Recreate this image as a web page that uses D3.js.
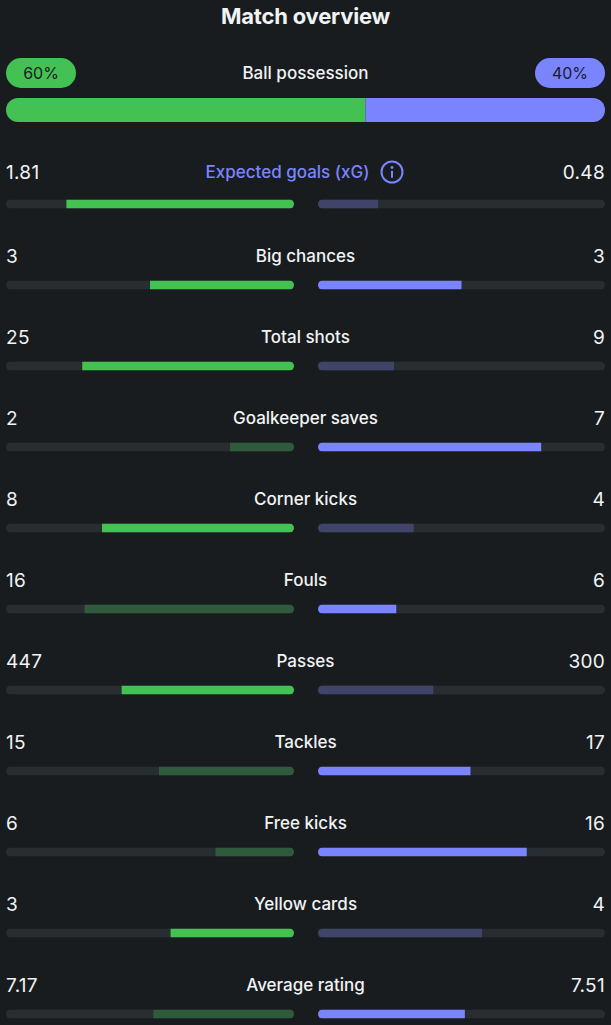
<!DOCTYPE html>
<html>
<head>
<meta charset="utf-8">
<script src="https://cdn.jsdelivr.net/npm/d3@7"></script>
<style>
  html, body { margin: 0; padding: 0; background: #181c1f; }
  svg { display: block; }
</style>
</head>
<body>
<div id="chart"></div>
<script>
// possession
const possession = [60, 40];

// stat rows
const statLabels = ["Expected goals (xG)", "Big chances", "Total shots", "Goalkeeper saves",
    "Corner kicks", "Fouls", "Passes", "Tackles", "Free kicks", "Yellow cards", "Average rating"];
const homeValues = [1.81, 3, 25, 2, 8, 16, 447, 15, 6, 3, 7.17];
const awayValues = [0.48, 3, 9, 7, 4, 6, 300, 17, 16, 4, 7.51];
const homeText = ["1.81", "3", "25", "2", "8", "16", "447", "15", "6", "3", "7.17"];
const awayText = ["0.48", "3", "9", "7", "4", "6", "300", "17", "16", "4", "7.51"];
// for these a lower number is better
const lowerIsBetter = ["Fouls", "Yellow cards"];

const width = 611, height = 1025;
const green = "#44c153", greenDim = "#2f5a3c";
const blue = "#7b84ff", blueDim = "#3f4468";
const track = "#282d31";
const font = "Inter, 'Noto Sans', sans-serif";

const svg = d3.select("#chart").append("svg")
    .attr("width", width)
    .attr("height", height)
    .attr("font-family", font);

svg.append("text")
    .attr("x", width / 2)
    .attr("y", 16)
    .attr("dy", "0.35em")
    .attr("text-anchor", "middle")
    .attr("fill", "#f1f3f4")
    .attr("font-size", 22)
    .attr("font-weight", 700)
    .attr("letter-spacing", "-0.2")
    .text("Match overview");

// ball possession
const px = d3.scaleLinear().domain([0, 100]).range([6, 605]);

const pills = [
    { x: 6, fill: green, text: possession[0] + "%" },
    { x: 535, fill: blue, text: possession[1] + "%" }
];
const pill = svg.append("g").selectAll("g").data(pills).join("g")
    .attr("transform", d => `translate(${d.x},58)`);
pill.append("rect")
    .attr("width", 70).attr("height", 30).attr("rx", 15)
    .attr("fill", d => d.fill);
pill.append("text")
    .attr("x", 35).attr("y", 15).attr("dy", "0.35em")
    .attr("text-anchor", "middle")
    .attr("fill", "#181c1f")
    .attr("font-size", 16)
    .text(d => d.text);

svg.append("text")
    .attr("x", width / 2).attr("y", 73).attr("dy", "0.35em")
    .attr("text-anchor", "middle")
    .attr("fill", "#f1f3f4")
    .attr("font-size", 17)
    .attr("font-weight", 500)
    .text("Ball possession");

svg.append("clipPath").attr("id", "poss-clip")
    .append("rect")
    .attr("x", px(0)).attr("y", 98)
    .attr("width", px(100) - px(0)).attr("height", 24).attr("rx", 12);

const possG = svg.append("g").attr("clip-path", "url(#poss-clip)");
possG.append("rect")
    .attr("x", px(0)).attr("y", 98)
    .attr("width", px(possession[0]) - px(0)).attr("height", 24)
    .attr("fill", green);
possG.append("rect")
    .attr("x", px(possession[0])).attr("y", 98)
    .attr("width", px(100) - px(possession[0])).attr("height", 24)
    .attr("fill", blue);

// stat rows
const rowY = d3.scaleLinear().domain([0, 1]).range([204, 285]);
const leftX = [6, 294], rightX = [318, 605];
const barH = 9;

const rows = statLabels.map((label, i) => {
    const h = homeValues[i], a = awayValues[i];
    const low = lowerIsBetter.includes(label);
    const homeWins = low ? h <= a : h >= a;
    const awayWins = low ? a <= h : a >= h;
    return { label, i, h, a, total: h + a, homeWins, awayWins };
});

const row = svg.append("g").selectAll("g").data(rows).join("g")
    .attr("transform", d => `translate(0,${rowY(d.i)})`);

// clips for tracks
row.append("clipPath").attr("id", d => "cl" + d.i)
    .append("rect")
    .attr("x", leftX[0]).attr("y", -barH / 2)
    .attr("width", leftX[1] - leftX[0]).attr("height", barH).attr("rx", barH / 2);
row.append("clipPath").attr("id", d => "cr" + d.i)
    .append("rect")
    .attr("x", rightX[0]).attr("y", -barH / 2)
    .attr("width", rightX[1] - rightX[0]).attr("height", barH).attr("rx", barH / 2);

const left = row.append("g").attr("clip-path", d => `url(#cl${d.i})`);
left.append("rect")
    .attr("x", leftX[0]).attr("y", -barH / 2)
    .attr("width", leftX[1] - leftX[0]).attr("height", barH)
    .attr("fill", track);
left.append("rect")
    .attr("x", d => d3.scaleLinear().domain([0, d.total]).range([leftX[1], leftX[0]])(d.h))
    .attr("y", -barH / 2)
    .attr("width", d => (leftX[1] - leftX[0]) * d.h / d.total)
    .attr("height", barH)
    .attr("fill", d => d.homeWins ? green : greenDim);

const right = row.append("g").attr("clip-path", d => `url(#cr${d.i})`);
right.append("rect")
    .attr("x", rightX[0]).attr("y", -barH / 2)
    .attr("width", rightX[1] - rightX[0]).attr("height", barH)
    .attr("fill", track);
right.append("rect")
    .attr("x", rightX[0]).attr("y", -barH / 2)
    .attr("width", d => d3.scaleLinear().domain([0, d.total]).range([0, rightX[1] - rightX[0]])(d.a))
    .attr("height", barH)
    .attr("fill", d => d.awayWins ? blue : blueDim);

// texts
const textY = d => d.i === 0 ? -32 : -29;
row.append("text")
    .attr("x", 6).attr("y", textY).attr("dy", "0.35em")
    .attr("fill", "#f1f3f4").attr("font-size", 19)
    .attr("letter-spacing", "0.3")
    .text(d => homeText[d.i]);
row.append("text")
    .attr("x", 605).attr("y", textY).attr("dy", "0.35em")
    .attr("text-anchor", "end")
    .attr("fill", "#f1f3f4").attr("font-size", 19)
    .attr("letter-spacing", "0.3")
    .text(d => awayText[d.i]);
row.append("text")
    .attr("x", d => d.i === 0 ? width / 2 - 18 : width / 2)
    .attr("y", textY).attr("dy", "0.35em")
    .attr("text-anchor", "middle")
    .attr("fill", d => d.i === 0 ? blue : "#f1f3f4")
    .attr("font-size", 17)
    .attr("font-weight", 500)
    .text(d => d.label);

// info icon next to xG
const info = row.filter(d => d.i === 0).append("g")
    .attr("transform", "translate(392,-32)");
info.append("circle").attr("r", 10.5)
    .attr("fill", "none").attr("stroke", blue).attr("stroke-width", 2);
info.append("circle").attr("cy", -4.5).attr("r", 1.4).attr("fill", blue);
info.append("rect").attr("x", -1).attr("y", -1.5).attr("width", 2).attr("height", 7.5)
    .attr("rx", 1).attr("fill", blue);
</script>
</body>
</html>
